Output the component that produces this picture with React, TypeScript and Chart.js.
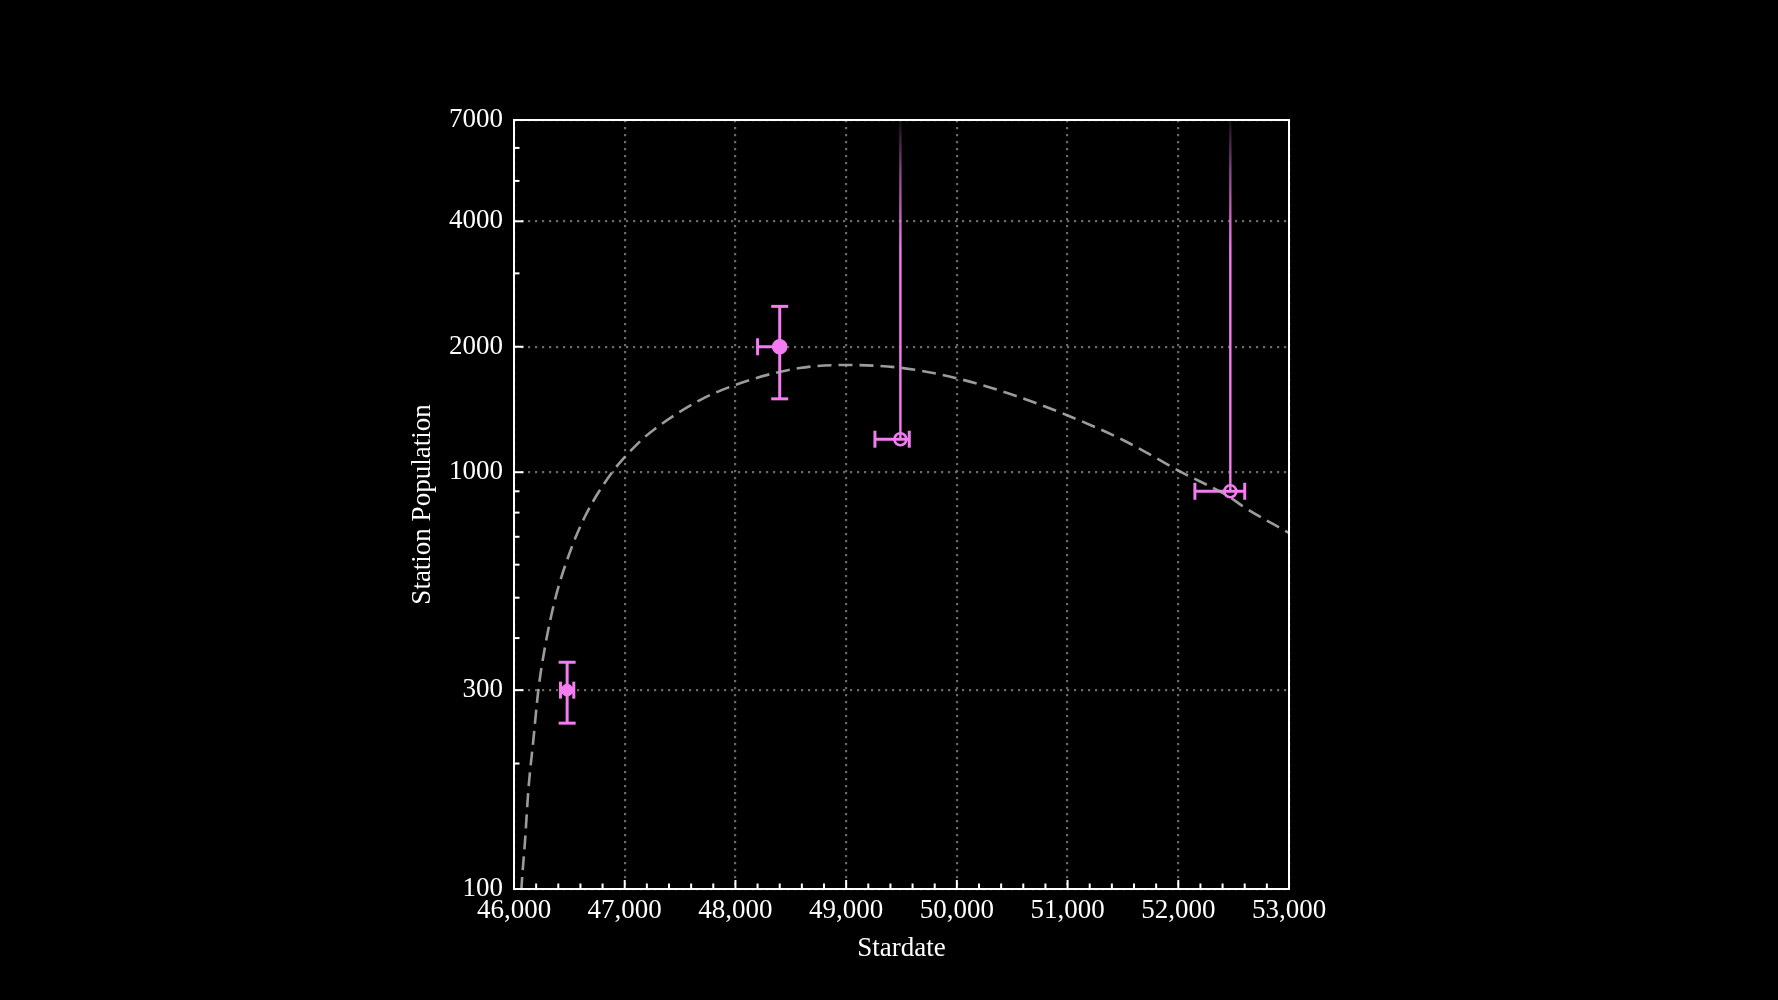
import React, { useEffect, useRef } from "react";
import { Chart, registerables } from "chart.js";

Chart.register(...registerables);

// observations (stardate, population) with error ranges
const stardates = [46480, 48400, 49490, 52470];
const population = [300, 2000, 1200, 900];
const stardateLow = [46420, 48200, 49260, 52150];
const stardateHigh = [46540, 48400, 49570, 52600];
const populationLow = [250, 1500, 1200, 900];
const populationHigh: (number | null)[] = [350, 2500, null, null]; // null = lower limit only
const markerFilled = [true, true, false, false];

// model curve
const curveStardate = [
  46055, 46070, 46100, 46130, 46175, 46220, 46280, 46370, 46490, 46640, 46880, 47120, 47260,
  47680, 48130, 48580, 48990, 49490, 50000, 50510, 50990, 51500, 52020, 52470, 52590, 53000,
];
const curvePopulation = [
  88, 103, 131, 173, 228, 300, 381, 494, 627, 782, 994, 1173, 1263,
  1490, 1664, 1778, 1808, 1781, 1680, 1532, 1372, 1195, 1003, 870, 826, 715,
];

const xMajorTicks = [46000, 47000, 48000, 49000, 50000, 51000, 52000, 53000];
const yMajorTicks = [100, 300, 1000, 2000, 4000, 7000];
const yMinorTicks = [200, 400, 500, 600, 700, 800, 900, 3000, 5000, 6000];

const MAGENTA = "#f47cf0";
const FONT = "'Liberation Serif', 'Times New Roman', serif";

const decorPlugin = {
  id: "decor",
  beforeDatasetsDraw(chart: any) {
    const { ctx, chartArea: a, scales } = chart;
    const x = scales.x;
    const y = scales.y;
    ctx.save();
    ctx.beginPath();
    ctx.rect(a.left, a.top, a.right - a.left, a.bottom - a.top);
    ctx.clip();
    const seg = (x1: number, y1: number, x2: number, y2: number) => {
      ctx.beginPath();
      ctx.moveTo(x1, y1);
      ctx.lineTo(x2, y2);
      ctx.stroke();
    };
    const cap = 8.5;
    stardates.forEach((sd, i) => {
      const px = x.getPixelForValue(sd);
      const py = y.getPixelForValue(population[i]);
      const xl = x.getPixelForValue(stardateLow[i]);
      const xr = x.getPixelForValue(stardateHigh[i]);
      ctx.strokeStyle = MAGENTA;
      ctx.lineWidth = 3;
      seg(xl, py, xr, py);
      if (xl < px - 1) seg(xl, py - cap, xl, py + cap);
      if (xr > px + 1) seg(xr, py - cap, xr, py + cap);
      const hi = populationHigh[i];
      if (hi === null) {
        // open-ended upper range, fading out towards the top of the plot
        const span = py - a.top;
        const g = ctx.createLinearGradient(0, py, 0, a.top);
        g.addColorStop(0, MAGENTA);
        g.addColorStop(Math.max(0, (py - 250) / span), MAGENTA);
        g.addColorStop(Math.max(0, (py - 170) / span), "rgba(244,124,240,0.55)");
        g.addColorStop(1, "rgba(244,124,240,0.08)");
        ctx.strokeStyle = g;
        ctx.lineWidth = 2.4;
        seg(px, py, px, a.top);
      } else {
        const yt = y.getPixelForValue(hi);
        const yb = y.getPixelForValue(populationLow[i]);
        seg(px, yt, px, yb);
        seg(px - cap, yt, px + cap, yt);
        seg(px - cap, yb, px + cap, yb);
      }
    });
    ctx.restore();
  },
  afterDraw(chart: any) {
    const { ctx, chartArea: a, scales } = chart;
    const x = scales.x;
    const y = scales.y;
    ctx.save();
    ctx.strokeStyle = "#ffffff";
    ctx.lineWidth = 2;
    const seg = (x1: number, y1: number, x2: number, y2: number) => {
      ctx.beginPath();
      ctx.moveTo(x1, y1);
      ctx.lineTo(x2, y2);
      ctx.stroke();
    };
    for (let v = 46000; v <= 53000; v += 200) {
      const px = x.getPixelForValue(v);
      const len = v % 1000 === 0 ? 9 : 5.5;
      seg(px, a.bottom, px, a.bottom - len);
    }
    yMajorTicks.forEach((v) => {
      const py = y.getPixelForValue(v);
      seg(a.left, py, a.left + 9.5, py);
    });
    yMinorTicks.forEach((v) => {
      const py = y.getPixelForValue(v);
      seg(a.left, py, a.left + 5.5, py);
    });
    ctx.strokeRect(a.left, a.top, a.right - a.left, a.bottom - a.top);
    ctx.restore();
  },
};

export default function App() {
  const canvasRef = useRef<HTMLCanvasElement>(null);
  const chartRef = useRef<Chart | null>(null);

  useEffect(() => {
    document.body.style.margin = "0";
    document.body.style.background = "#000";
    const ctx = canvasRef.current?.getContext("2d");
    if (!ctx) return;
    if (chartRef.current) chartRef.current.destroy();

    const gridColor = "rgba(112,112,112,0.95)";

    chartRef.current = new Chart(ctx, {
      type: "scatter",
      data: {
        datasets: [
          {
            type: "line",
            label: "model",
            data: curveStardate.map((sd, i) => ({ x: sd, y: curvePopulation[i] })),
            borderColor: "rgba(172,172,172,0.9)",
            borderWidth: 2.6,
            borderDash: [14, 7],
            pointRadius: 0,
            cubicInterpolationMode: "monotone",
            fill: false,
            clip: 0,
            order: 1,
          } as any,
          {
            type: "scatter",
            label: "observed",
            data: stardates.map((sd, i) => ({ x: sd, y: population[i] })),
            pointRadius: [5, 6.5, 6, 6],
            pointBackgroundColor: markerFilled.map((f) => (f ? MAGENTA : "rgba(0,0,0,0)")),
            pointBorderColor: MAGENTA,
            pointBorderWidth: 2.6,
            order: 0,
          } as any,
        ],
      },
      options: {
        animation: false,
        responsive: true,
        maintainAspectRatio: false,
        events: [],
        layout: { padding: { left: 407, right: 489, top: 120, bottom: 35 } },
        plugins: {
          legend: { display: false },
          tooltip: { enabled: false },
        },
        scales: {
          x: {
            type: "linear",
            min: 46000,
            max: 53000,
            afterBuildTicks: (axis: any) => {
              axis.ticks = xMajorTicks.map((v) => ({ value: v }));
            },
            afterFit: (axis: any) => {
              axis.height = 76;
            },
            ticks: {
              color: "#ffffff",
              font: { family: FONT, size: 27 },
              padding: 6,
              maxRotation: 0,
              autoSkip: false,
              callback: (v: any) => Number(v).toLocaleString("en-US"),
            },
            grid: { color: gridColor, lineWidth: 2.2, drawTicks: false },
            border: { display: false, dash: [2.2, 4.8] },
            title: {
              display: true,
              text: "Stardate",
              color: "#ffffff",
              font: { family: FONT, size: 27 },
              padding: 0,
            },
          },
          y: {
            type: "logarithmic",
            min: 100,
            max: 7000,
            afterBuildTicks: (axis: any) => {
              axis.ticks = yMajorTicks.map((v) => ({ value: v }));
            },
            afterFit: (axis: any) => {
              axis.width = 107;
            },
            ticks: {
              color: "#ffffff",
              font: { family: FONT, size: 27 },
              padding: 11,
              autoSkip: false,
              callback: (v: any) => String(v),
            },
            grid: { color: gridColor, lineWidth: 2.2, drawTicks: false },
            border: { display: false, dash: [2.2, 4.8] },
            title: {
              display: true,
              text: "Station Population",
              color: "#ffffff",
              font: { family: FONT, size: 27 },
              padding: 0,
            },
          },
        },
      },
      plugins: [decorPlugin],
    });

    return () => {
      if (chartRef.current) {
        chartRef.current.destroy();
        chartRef.current = null;
      }
    };
  }, []);

  return (
    <div style={{ position: "relative", width: 1778, height: 1000, background: "#000" }}>
      <canvas ref={canvasRef} />
    </div>
  );
}
